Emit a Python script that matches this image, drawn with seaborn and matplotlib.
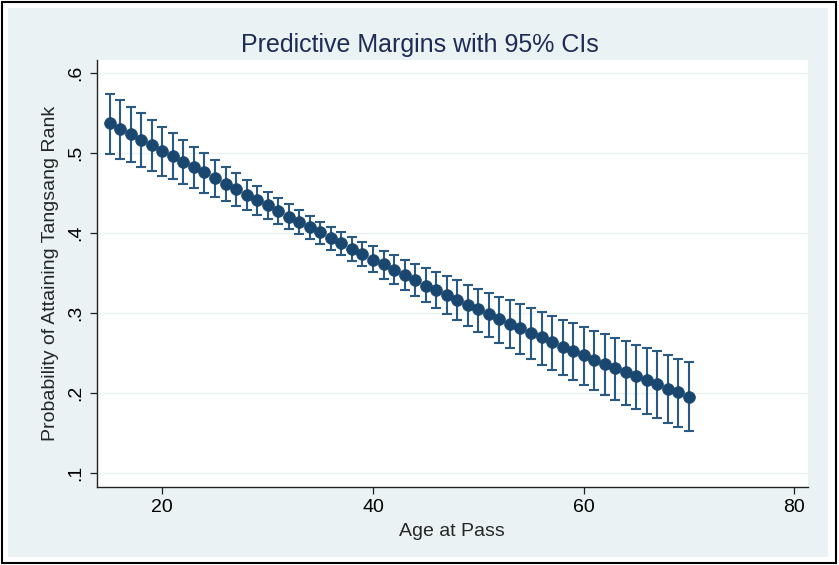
import matplotlib
matplotlib.use("Agg")
import matplotlib.pyplot as plt
from matplotlib.patches import Rectangle
import seaborn as sns
import pandas as pd

# Predictive margins by age at passing the exam
age = list(range(15, 71))
margin = [0.5382, 0.5307, 0.5241, 0.5166, 0.5104, 0.5032, 0.4966, 0.4895,
          0.4825, 0.4762, 0.4695, 0.4620, 0.4550, 0.4479, 0.4416, 0.4350,
          0.4279, 0.4207, 0.4145, 0.4079, 0.4010, 0.3945, 0.3879, 0.3804,
          0.3745, 0.3670, 0.3612, 0.3541, 0.3479, 0.3416, 0.3345, 0.3291,
          0.3229, 0.3170, 0.3107, 0.3050, 0.2987, 0.2929, 0.2870, 0.2812,
          0.2750, 0.2697, 0.2637, 0.2575, 0.2525, 0.2475, 0.2416, 0.2362,
          0.2312, 0.2262, 0.2212, 0.2166, 0.2112, 0.2057, 0.2012, 0.1957]
ci_upper = [0.5745, 0.5666, 0.5582, 0.5500, 0.5412, 0.5329, 0.5250, 0.5162,
            0.5079, 0.5000, 0.4912, 0.4829, 0.4750, 0.4670, 0.4591, 0.4512,
            0.4437, 0.4362, 0.4291, 0.4216, 0.4145, 0.4082, 0.4020, 0.3954,
            0.3895, 0.3837, 0.3782, 0.3725, 0.3670, 0.3616, 0.3562, 0.3512,
            0.3462, 0.3412, 0.3357, 0.3307, 0.3257, 0.3207, 0.3162, 0.3116,
            0.3070, 0.3020, 0.2970, 0.2920, 0.2875, 0.2829, 0.2782, 0.2741,
            0.2695, 0.2650, 0.2607, 0.2566, 0.2525, 0.2479, 0.2432, 0.2391]
ci_lower = [0.4991, 0.4932, 0.4887, 0.4825, 0.4779, 0.4720, 0.4675, 0.4616,
            0.4562, 0.4507, 0.4454, 0.4400, 0.4341, 0.4287, 0.4229, 0.4175,
            0.4112, 0.4054, 0.3995, 0.3929, 0.3862, 0.3791, 0.3729, 0.3654,
            0.3591, 0.3512, 0.3432, 0.3362, 0.3287, 0.3212, 0.3141, 0.3066,
            0.2987, 0.2912, 0.2837, 0.2770, 0.2704, 0.2632, 0.2566, 0.2491,
            0.2425, 0.2357, 0.2291, 0.2229, 0.2166, 0.2100, 0.2041, 0.1979,
            0.1916, 0.1857, 0.1800, 0.1741, 0.1687, 0.1632, 0.1575, 0.1520]

x_ticks = [20, 40, 60, 80]
y_ticks = [0.1, 0.2, 0.3, 0.4, 0.5, 0.6]
y_tick_labels = [".1", ".2", ".3", ".4", ".5", ".6"]

df = pd.DataFrame({"age": age, "margin": margin,
                   "lower": ci_lower, "upper": ci_upper})

sns.set_style("white")
plt.rcParams["font.family"] = ["Liberation Sans Narrow", "Liberation Sans",
                               "DejaVu Sans"]

NAVY = "#1a476f"
BAR = "#285a85"
BG = "#eaf2f3"

fig = plt.figure(figsize=(8.39, 5.65), dpi=100)
fig.patch.set_facecolor("white")

# light graph region and outer frame, kept behind the axes
fig.patches.append(Rectangle((8 / 839, 8 / 565), 820 / 839, 549 / 565,
                             transform=fig.transFigure, facecolor=BG,
                             edgecolor="none", zorder=-10))
fig.patches.append(Rectangle((2 / 839, 2 / 565), 834 / 839, 561 / 565,
                             transform=fig.transFigure, facecolor="none",
                             edgecolor="black", linewidth=1.5, zorder=-9))

ax = fig.add_axes([96.7 / 839, 1 - 486.7 / 565,
                   (808 - 96.7) / 839, (486.7 - 60) / 565])
ax.set_facecolor("white")

# confidence intervals
ax.errorbar(df["age"], df["margin"],
            yerr=[df["margin"] - df["lower"], df["upper"] - df["margin"]],
            fmt="none", ecolor=BAR, elinewidth=1.5, capsize=3.5,
            capthick=1.5, zorder=2)
# point estimates
sns.scatterplot(data=df, x="age", y="margin", ax=ax, color=NAVY,
                s=72, edgecolor=NAVY, linewidth=0.5, zorder=3, legend=False)

ax.set_xlim(13.77, 81.3)
ax.set_ylim(0.0829, 0.6167)
ax.set_xticks(x_ticks)
ax.set_yticks(y_ticks)
ax.set_yticklabels(y_tick_labels, rotation=90, va="center")
ax.yaxis.grid(True, color=BG, linewidth=1.0)
ax.xaxis.grid(False)
ax.set_axisbelow(True)

for side in ("top", "right"):
    ax.spines[side].set_visible(False)
for side in ("left", "bottom"):
    ax.spines[side].set_color("#222222")
    ax.spines[side].set_linewidth(1.0)

ax.tick_params(axis="both", which="major", direction="out", length=5,
               width=0.9, color="#222222", labelsize=14,
               labelcolor="black", pad=4, left=True, bottom=True)

ax.set_xlabel("Age at Pass", fontsize=14, labelpad=5)
ax.set_ylabel("Probability of Attaining Tangsang Rank", fontsize=14,
              labelpad=6)
fig.text(0.5, 1 - 45 / 565, "Predictive Margins with 95% CIs",
         ha="center", va="center", fontsize=18, color="#1e2b55")

fig.savefig("out.png", dpi=100, facecolor=fig.get_facecolor())
